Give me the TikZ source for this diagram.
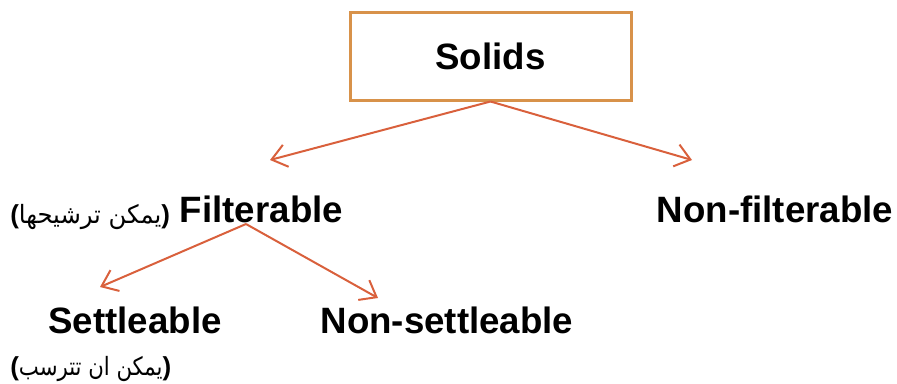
\documentclass[tikz,border=0pt]{standalone}
\usepackage{fontspec}
\usepackage{graphicx}
\setmainfont{Liberation Sans}
\newfontfamily\arabicfont[Script=Arabic]{DejaVu Sans}
\TeXXeTstate=1
\usetikzlibrary{arrows.meta}
\definecolor{boxorange}{HTML}{D8924A}
\definecolor{arrowred}{HTML}{D9603C}
\tikzset{
  headbox/.style={draw=boxorange, line width=2.25pt, fill=white,
    minimum width=210.75pt, minimum height=66pt, inner sep=0pt,
    font=\fontsize{27.5}{30}\selectfont\bfseries},
  term/.style={inner sep=0pt, anchor=base,
    font=\fontsize{27.5}{30}\selectfont\bfseries},
  gloss/.style={inner sep=0pt, anchor=base west},
  branch/.style={draw=arrowred, line width=1.5pt,
    -{Straight Barb[length=11pt,width=17pt,line width=1.5pt]}},
}
% bracketed Arabic gloss: bold Latin brackets round a right-to-left phrase,
% #1 = horizontal scale of the phrase, #2 = the phrase (already in \beginR..\endR)
\newcommand{\arglossa}[2]{{\fontsize{19.5}{22}\selectfont\bfseries(}%
  \scalebox{#1}[1.08]{\arabicfont\fontsize{17.5}{20}\selectfont #2}%
  {\fontsize{19.5}{22}\selectfont\bfseries)}}
\begin{document}
\begin{tikzpicture}[x=0.75pt,y=-0.75pt]
  \useasboundingbox (0,0) rectangle (897,383);

  % top box
  \node[headbox] (solids) at (490.5,56) {Solids};

  % second level
  \node[term] (filt) at (261.5,222) {Filterable};
  \node[term] (nonfilt) at (775,222) {Non-filterable};
  \node[gloss] (filtar) at (10,223) {\arglossa{1.04}{\beginR يمكن ترشيحها\endR}};

  % third level
  \node[term] (settle) at (135,333) {Settleable};
  \node[term] (nonsettle) at (447,333) {Non-settleable};
  \node[gloss] (settlear) at (10,375) {\arglossa{0.91}{\beginR يمكن ان تترسب\endR}};

  % branch ends
  \coordinate (filttip) at (270,160);
  \coordinate (nonfilttip) at (692,160);
  \coordinate (filtroot) at (246,224);
  \coordinate (settletip) at (100,287);
  \coordinate (nonsettletip) at (378,298);

  \draw[branch] (solids.south) -- (filttip);
  \draw[branch] (solids.south) -- (nonfilttip);
  \draw[branch] (filtroot) -- (settletip);
  \draw[branch] (filtroot) -- (nonsettletip);
\end{tikzpicture}
\end{document}
